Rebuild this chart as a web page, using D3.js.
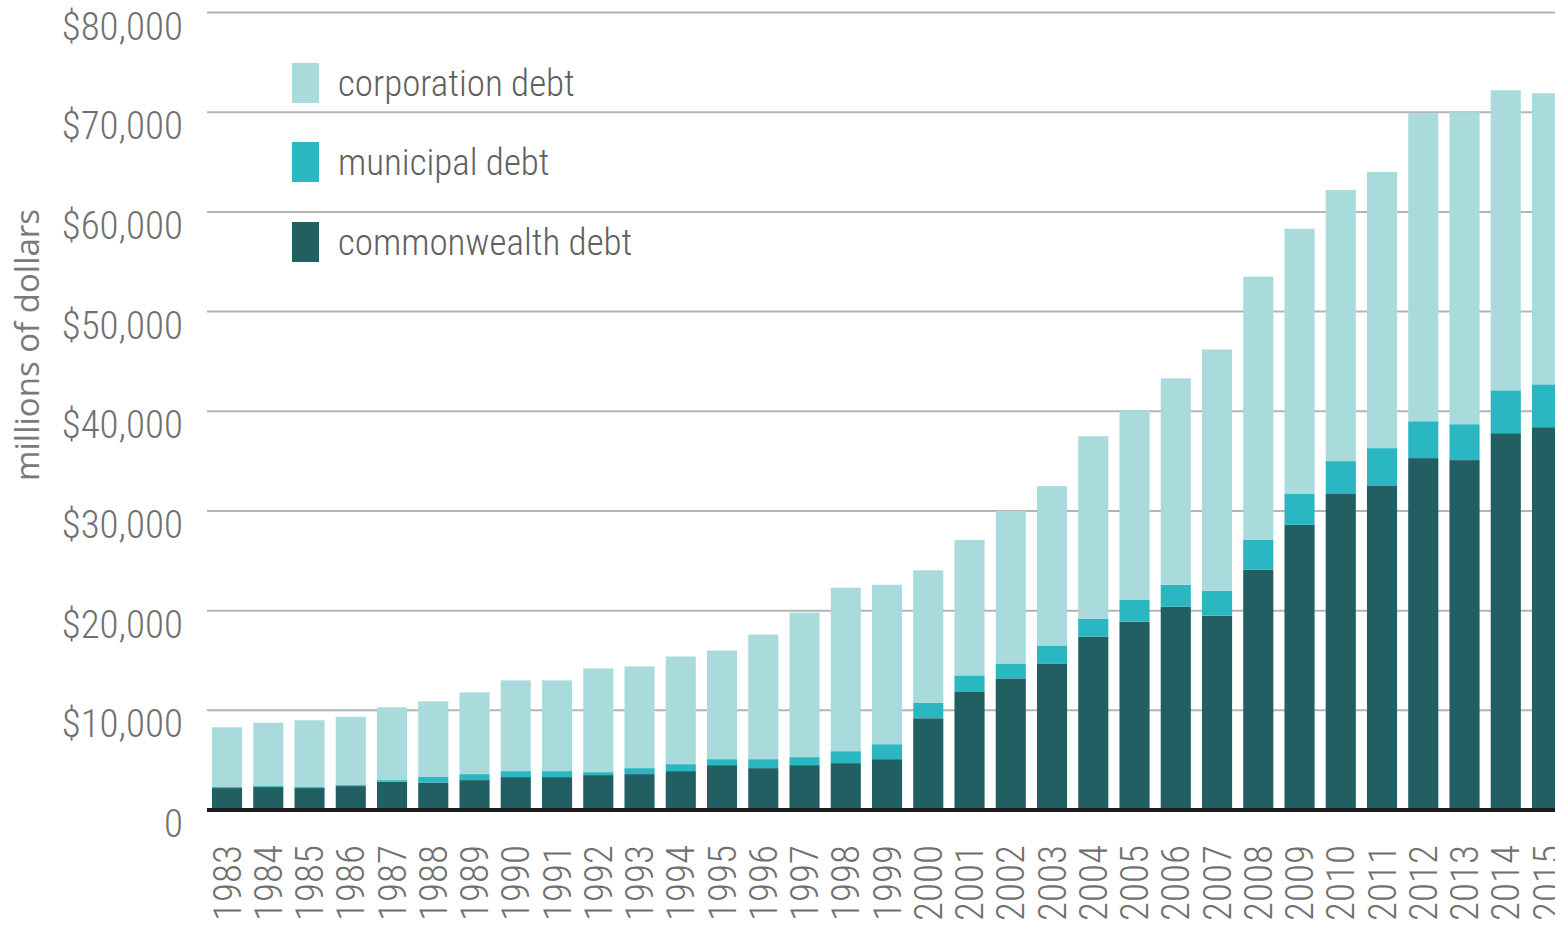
<!DOCTYPE html>
<html>
<head>
<meta charset="utf-8">
<script src="https://cdn.jsdelivr.net/npm/d3@7"></script>
<style>
  html, body { margin: 0; padding: 0; background: #fff; }
  svg { display: block; }
</style>
</head>
<body>
<svg id="chart"></svg>
<script>
/* data, millions of dollars */
const years = d3.range(1983, 2016)
const commonwealthDebt = [2200, 2300, 2200, 2400, 2850, 2750, 3000, 3300, 3300, 3500, 3600, 3900, 4500, 4200, 4500, 4700, 5100,
  9200, 11900, 13200, 14700, 17400, 18900, 20400, 19500, 24100, 28600, 31700, 32500, 35300, 35100, 37800, 38400]
const municipalDebt = [150, 100, 100, 100, 150, 600, 600, 600, 600, 300, 600, 700, 600, 900, 800, 1200, 1500,
  1550, 1600, 1500, 1800, 1800, 2200, 2200, 2500, 3000, 3100, 3300, 3800, 3700, 3600, 4300, 4300]
const corporationDebt = [5950, 6350, 6700, 6850, 7300, 7550, 8200, 9100, 9100, 10400, 10200, 10800, 10900, 12500, 14500, 16400, 16000,
  13300, 13600, 15300, 16000, 18300, 19000, 20700, 24200, 26400, 26600, 27200, 27700, 30900, 31300, 30100, 29200]

const seriesKeys = ['commonwealth', 'municipal', 'corporation']
const legendLabels = ['corporation debt', 'municipal debt', 'commonwealth debt']
const yTicks = [0, 10000, 20000, 30000, 40000, 50000, 60000, 70000, 80000]
const yTickLabels = ['0', '$10,000', '$20,000', '$30,000', '$40,000', '$50,000', '$60,000', '$70,000', '$80,000']

const colors = {commonwealth: '#225f63', municipal: '#2bb7c1', corporation: '#aadbdc'}

const width = 1555, height = 936
const margin = {top: 12.5, left: 207, bottom: 126}

const svg = d3.select('#chart').attr('width', width).attr('height', height)

// table for the stack
const table = years.map((yr, i) => ({
  year: yr,
  commonwealth: commonwealthDebt[i],
  municipal: municipalDebt[i],
  corporation: corporationDebt[i]
}))

const xScale = d3.scaleBand()
  .domain(years)
  .range([206.4, 206.4 + 33 * 41.25])
  .paddingInner(0.27)
  .paddingOuter(0.135)

const yScale = d3.scaleLinear()
  .domain([0, 80000])
  .range([height - margin.bottom, margin.top])

const fontNarrow = '"Liberation Sans Narrow", "Roboto Condensed", "Liberation Sans", sans-serif'
const textGrey = '#707070'

/* gridlines */
svg.append('g')
  .selectAll('line')
  .data(yTicks.filter(d => d > 0))
  .enter()
  .append('line')
  .attr('x1', margin.left)
  .attr('x2', width)
  .attr('y1', d => yScale(d))
  .attr('y2', d => yScale(d))
  .attr('stroke', '#b4b4b4')
  .attr('stroke-width', 2)

/* bars */
const stacked = d3.stack().keys(seriesKeys)(table)

svg.append('g')
  .selectAll('g')
  .data(stacked)
  .enter()
  .append('g')
  .attr('fill', d => colors[d.key])
  .selectAll('rect')
  .data(d => d)
  .enter()
  .append('rect')
  .attr('x', d => xScale(d.data.year))
  .attr('width', xScale.bandwidth())
  .attr('y', d => yScale(d[1]))
  .attr('height', d => yScale(d[0]) - yScale(d[1]))

/* baseline */
svg.append('line')
  .attr('x1', margin.left)
  .attr('x2', width)
  .attr('y1', yScale(0))
  .attr('y2', yScale(0))
  .attr('stroke', '#1c1c1c')
  .attr('stroke-width', 4)

/* y axis labels */
const yAxis = d3.axisLeft(yScale)
  .tickValues(yTicks)
  .tickSize(0)
  .tickPadding(0)
  .tickFormat((d, i) => yTickLabels[i])

const gy = svg.append('g')
  .attr('transform', 'translate(183,0)')
  .call(yAxis)
gy.select('.domain').remove()
gy.selectAll('text')
  .attr('dy', '0.35em')
  .attr('y', 13)
  .style('font-family', fontNarrow)
  .style('font-size', '39px')
  .style('font-weight', 300)
  .attr('fill', textGrey)

/* x axis labels */
const xAxis = d3.axisBottom(xScale).tickSize(0)
const gx = svg.append('g')
  .attr('transform', 'translate(0,' + yScale(0) + ')')
  .call(xAxis)
gx.select('.domain').remove()
gx.selectAll('text')
  .attr('transform', 'rotate(-90)')
  .attr('x', -35)
  .attr('y', 0)
  .attr('dy', '0.35em')
  .style('text-anchor', 'end')
  .style('font-family', fontNarrow)
  .style('font-size', '39px')
  .style('font-weight', 300)
  .attr('fill', textGrey)

/* axis title */
svg.append('text')
  .attr('transform', 'translate(39,345) rotate(-90)')
  .attr('text-anchor', 'middle')
  .style('font-family', '"Open Sans", sans-serif')
  .style('font-size', '33px')
  .attr('fill', '#7a7a7a')
  .text('millions of dollars')

/* legend */
const legendKeys = ['corporation', 'municipal', 'commonwealth']
const legendY = [63, 142, 222]
const legend = svg.append('g')
legendKeys.forEach((k, i) => {
  legend.append('rect')
    .attr('x', 292)
    .attr('y', legendY[i])
    .attr('width', 27)
    .attr('height', 40)
    .attr('fill', colors[k])
  legend.append('text')
    .attr('x', 338)
    .attr('y', legendY[i] + 33)
    .style('font-family', fontNarrow)
    .style('font-size', '37px')
    .style('font-weight', 300)
    .attr('fill', '#606060')
    .text(legendLabels[i])
})
</script>
</body>
</html>
